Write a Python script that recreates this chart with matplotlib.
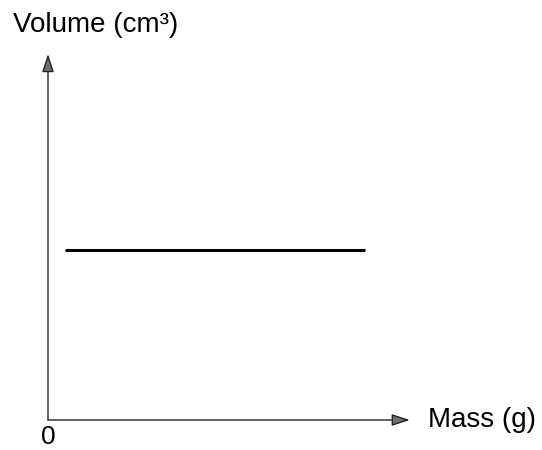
import matplotlib
matplotlib.use("Agg")
import matplotlib.pyplot as plt

plt.rcParams['font.family'] = ['Liberation Sans', 'DejaVu Sans']

# data (arbitrary units): volume stays constant as mass increases
mass = [0.47, 8.8]
volume = [4.65, 4.65]
x_max = 10.05
y_max = 10

fig = plt.figure(figsize=(5.42, 4.5), dpi=100)
ax = fig.add_axes([48 / 542, 30 / 450, 360 / 542, 366 / 450])
ax.set_xlim(0, 10)
ax.set_ylim(0, y_max)
ax.axis('off')

# axes with arrowheads
arrow = dict(arrowstyle='-|>,head_length=1.1,head_width=0.36', ec='#222222',
             fc='#707070', lw=1.0, shrinkA=0, shrinkB=0)
ax.annotate('', xy=(x_max, 0), xytext=(0, 0), arrowprops=arrow, annotation_clip=False)
ax.annotate('', xy=(0, y_max), xytext=(0, 0), arrowprops=arrow, annotation_clip=False)

ax.plot(mass, volume, color='black', lw=2.2, solid_capstyle='butt')

fig.text(13 / 542, 1 - 25 / 450, 'Volume (cm³)', fontsize=20, va='center', ha='left')
fig.text(428 / 542, 1 - 420 / 450, 'Mass (g)', fontsize=20, va='center', ha='left')
fig.text(48.5 / 542, 1 - 437 / 450, '0', fontsize=19, va='center', ha='center')

fig.savefig('out.png', dpi=100)
